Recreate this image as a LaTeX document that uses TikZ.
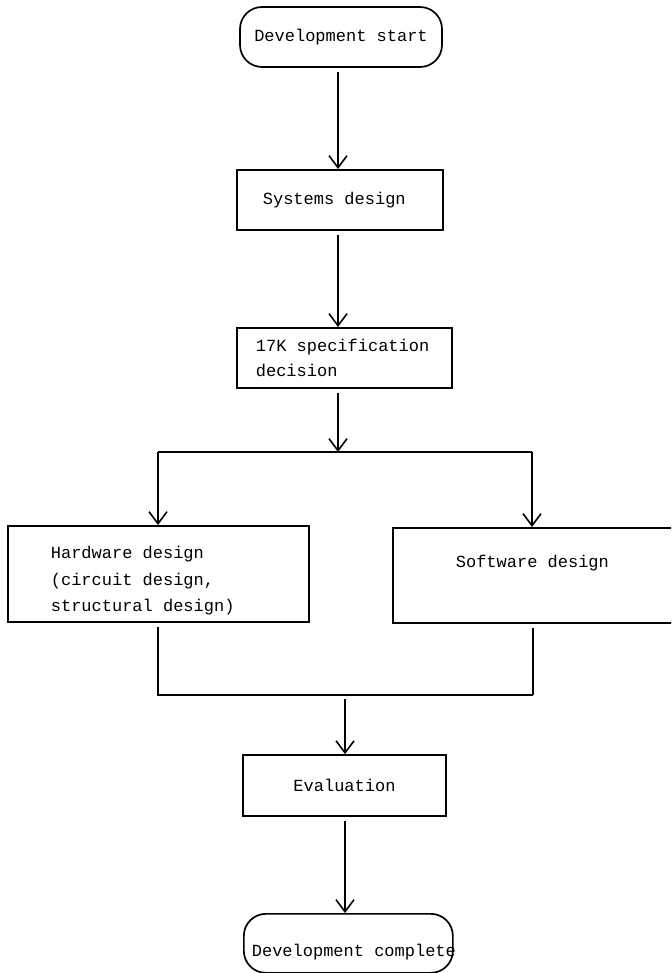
\documentclass[tikz,border=0pt]{standalone}
\usepackage{fontspec}
\setmonofont{Liberation Mono}
\usetikzlibrary{arrows.meta}
% full-width typewriter spaces inside left-aligned node paragraphs
\newcommand{\monospaces}{\spaceskip=0.6em\relax\xspaceskip=0.6em\relax}
\begin{document}
\begin{tikzpicture}[x=1pt,y=-1pt,
  txt/.style={font=\ttfamily\fontsize{17}{26}\selectfont},
  box/.style={txt, draw, line width=1.7pt, rectangle},
  terminal/.style={txt, draw, line width=1.7pt, rounded corners=22pt},
  link/.style={line width=1.6pt},
  arr/.style={link, shorten <=4pt, -{Straight Barb[length=12pt,width=18pt,line width=1.6pt]}},
  drop/.style={link, -{Straight Barb[length=12pt,width=18pt,line width=1.6pt]}}
]
\useasboundingbox (0,0) rectangle (671,973);
\clip (0,0) rectangle (671,973);

% process steps
\node[terminal, minimum width=202pt, minimum height=60pt] (start) at (341,37) {Development start};
\node[box, anchor=north west, minimum height=60pt, text width=154pt, inner xsep=26pt, align=left] (sys) at (236,169) {\monospaces Systems design};
\node[box, anchor=north west, minimum height=60pt, text width=177pt, inner xsep=19pt, align=left, font=\ttfamily\fontsize{17}{25}\selectfont] (spec) at (236,327) {\monospaces 17K specification\\decision};
\node[box, anchor=north west, inner ysep=0pt, text height=33pt, text depth=63pt, text width=215pt, inner xsep=43pt, align=left, font=\ttfamily\fontsize{17}{26.5}\selectfont] (hw) at (7,525) {\monospaces Hardware design\\(circuit design,\\structural design)};
\node[box, anchor=north west, inner ysep=0pt, text height=40pt, text depth=55pt, text width=220pt, inner xsep=63pt, align=left] (sw) at (392,527) {\monospaces Software design};
\node[box, minimum width=203pt, minimum height=61pt] (eval) at (344.5,785.5) {Evaluation};
\node[terminal, anchor=north west, inner xsep=8pt, inner ysep=0pt, text height=43pt, text depth=16pt] (end) at (243,913) {\makebox[193pt][l]{Development complete}};

% connector routing points
\coordinate (axis) at (338,0);
\coordinate (split) at (338,452);
\coordinate (hl) at (158,452);
\coordinate (hr) at (532,452);
\coordinate (ml) at (158,695);
\coordinate (mr) at (533,695);
\coordinate (mm) at (345,695);

% connectors
\draw[arr] (start.south -| axis) -- (sys.north -| axis);
\draw[arr] (sys.south -| axis) -- (spec.north -| axis);
\draw[arr] (spec.south -| split) -- (split);
\draw[link] (hl) -- (hr);
\draw[drop] (hl) -- (hw.north -| hl);
\draw[drop] (hr) -- (sw.north -| hr);
\draw[link, shorten <=4pt] (hw.south -| ml) -- (ml) -- (mr);
\draw[link, shorten <=4pt] (sw.south -| mr) -- (mr);
\draw[arr] (mm) -- (eval.north -| mm);
\draw[arr] (eval.south -| mm) -- (end.north -| mm);
\end{tikzpicture}
\end{document}
